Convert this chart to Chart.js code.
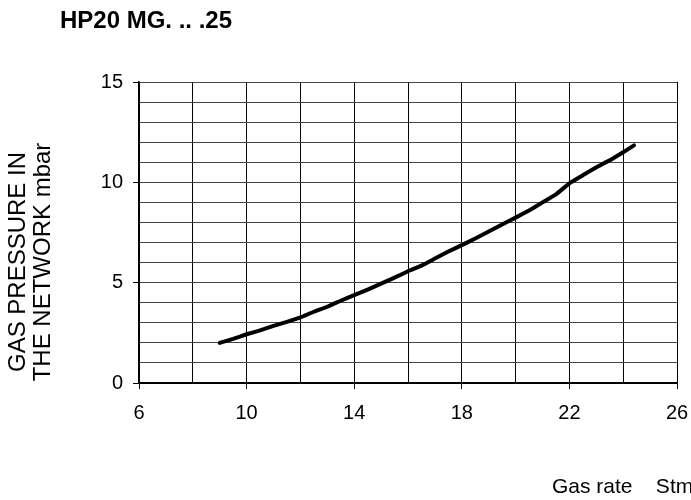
<!DOCTYPE html>
<html>
<head>
<meta charset="utf-8">
<script src="https://cdn.jsdelivr.net/npm/chart.js@4/dist/chart.umd.min.js"></script>
<style>
  html, body { margin: 0; padding: 0; background: #fff; }
  #wrap { width: 691px; height: 500px; position: relative; }
</style>
</head>
<body>
<div id="wrap"><canvas id="gasChart"></canvas></div>
<script>
// gas rate (Stm3/h) and pressure in the network (mbar)
const gasRate = [9.0, 9.5, 10.0, 10.5, 11.0, 11.5, 12.0, 12.5, 13.0, 13.5, 14.0, 14.5, 15.0, 15.5,
    16.0, 16.5, 17.0, 17.5, 18.0, 18.5, 19.0, 19.5, 20.0, 20.5, 21.0, 21.5, 22.0, 22.5, 23.0, 23.5, 24.0, 24.4];
const pressure = [2.0, 2.2, 2.43, 2.62, 2.85, 3.05, 3.27, 3.55, 3.8, 4.1, 4.38, 4.65, 4.95, 5.25,
    5.57, 5.85, 6.2, 6.55, 6.87, 7.2, 7.55, 7.9, 8.24, 8.6, 9.0, 9.4, 9.95, 10.35, 10.75, 11.1, 11.5, 11.84];

// labelled ticks
const xLabelTicks = [6, 10, 14, 18, 22, 26];
const yLabelTicks = [0, 5, 10, 15];

const titleText = 'HP20 MG. .. .25';
const yTitleLines = ['GAS PRESSURE IN', 'THE NETWORK mbar'];
const xTitleText = 'Gas rate    Stm\u00b3/h';

const FONT = 'Arial, "Liberation Sans", sans-serif';

// texte placé à la main autour du graphique
const textPlugin = {
    id: 'textPlugin',
    afterDraw(chart) {
        const ctx = chart.ctx;
        ctx.save();
        ctx.fillStyle = '#000';
        ctx.textBaseline = 'alphabetic';

        ctx.font = 'bold 24px ' + FONT;
        ctx.textAlign = 'left';
        ctx.fillText(titleText, 60, 28);

        ctx.font = '21px ' + FONT;
        ctx.fillText(xTitleText, 552, 493);

        ctx.font = '24px ' + FONT;
        ctx.textAlign = 'center';
        ctx.translate(25, 262);
        ctx.rotate(-Math.PI / 2);
        ctx.fillText(yTitleLines[0], 0, 0);
        ctx.fillText(yTitleLines[1], 0, 25);
        ctx.restore();
    }
};

function renderChart() {
    const ctx = document.getElementById('gasChart').getContext('2d');
    const points = gasRate.map((x, i) => ({ x: x, y: pressure[i] }));

    new Chart(ctx, {
        type: 'line',
        data: {
            datasets: [{
                data: points,
                borderColor: '#000',
                borderWidth: 4,
                borderCapStyle: 'round',
                pointRadius: 0,
                tension: 0.1,
                fill: false
            }]
        },
        options: {
            responsive: true,
            maintainAspectRatio: false,
            animation: false,
            layout: { padding: { top: 82, right: 0, left: 0, bottom: 0 } },
            plugins: {
                legend: { display: false },
                tooltip: { enabled: false }
            },
            scales: {
                x: {
                    type: 'linear',
                    min: 6,
                    max: 26,
                    afterFit(scale) {
                        scale.height = 117;
                        scale.paddingRight = 14;
                    },
                    border: { color: '#000', width: 2 },
                    grid: {
                        color: '#000',
                        lineWidth: 1,
                        tickLength: 6,
                        tickColor: c => xLabelTicks.includes(c.tick && c.tick.value) ? '#000' : 'rgba(0,0,0,0)'
                    },
                    ticks: {
                        stepSize: 2,
                        autoSkip: false,
                        maxRotation: 0,
                        padding: 12,
                        color: '#000',
                        font: { family: FONT, size: 20 },
                        callback: v => xLabelTicks.includes(v) ? String(v) : ''
                    }
                },
                y: {
                    min: 0,
                    max: 15,
                    afterFit(scale) { scale.width = 139; },
                    border: { color: '#000', width: 1.5 },
                    grid: {
                        color: '#444',
                        lineWidth: 1,
                        tickLength: 6,
                        tickColor: c => yLabelTicks.includes(c.tick && c.tick.value) ? '#000' : 'rgba(0,0,0,0)'
                    },
                    ticks: {
                        stepSize: 1,
                        autoSkip: false,
                        padding: 10,
                        color: '#000',
                        font: { family: FONT, size: 20 },
                        callback: v => yLabelTicks.includes(v) ? String(v) : ''
                    }
                }
            }
        },
        plugins: [textPlugin]
    });
}

window.onload = function() {
    renderChart();
};
</script>
</body>
</html>
